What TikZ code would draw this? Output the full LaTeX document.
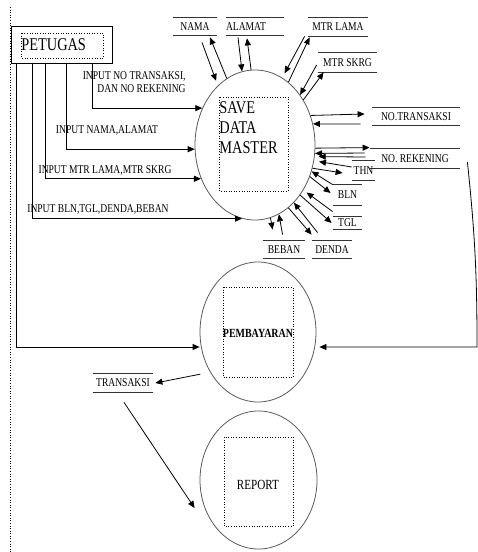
\documentclass[tikz,border=0pt]{standalone}
\usepackage{fontspec}
\setmainfont{Liberation Serif}[FakeStretch=0.8]
\usetikzlibrary{arrows.meta,shapes.geometric}

\begin{document}
\begin{tikzpicture}[x=1bp,y=-1bp,line width=0.8bp,
        flow/.style={-{Triangle[length=7bp,width=6bp]}},
        proc/.style={ellipse,draw=black!65},
        inbox/.style={dotted,line width=0.6bp},
        lbl/.style={inner sep=0pt,font=\fontsize{12}{13}\selectfont},
        store/.style={lbl,minimum height=17bp,
            append after command={(\tikzlastnode.north west) edge[draw=black!80] (\tikzlastnode.north east)
                (\tikzlastnode.south west) edge[draw=black!80] (\tikzlastnode.south east)}}]
        \useasboundingbox (0,0) rectangle (478,552);
        \draw[inbox] (10,7) -- (10,552);

        % entitas
        \node[draw,line width=1bp,minimum width=100bp,minimum height=37bp] (petugas) at (62,45) {};
        \draw[inbox] (21,33) rectangle (103,58);
        \node[anchor=west,inner sep=0pt,font=\fontsize{18}{20}\selectfont] (petugastxt) at (21,44.5) {PETUGAS};

        % proses
        \node[proc,minimum width=120bp,minimum height=150bp] (save) at (255,145) {};
        \draw[inbox] (219,97) rectangle (288,191);
        \node[anchor=north west,align=left,inner sep=0pt,font=\fontsize{18}{20}\selectfont] (savetxt) at (219,101) {SAVE\\DATA\\MASTER};

        \node[proc,minimum width=116bp,minimum height=140bp] (bayar) at (258,332) {};
        \draw[inbox] (223,287) rectangle (293,377);
        \node[inner sep=0pt,font=\bfseries\fontsize{12.5}{14}\selectfont] (bayartxt) at (258,333) {PEMBAYARAN};

        \node[proc,minimum width=117bp,minimum height=138bp] (report) at (258.5,480) {};
        \draw[inbox] (224,437) rectangle (293,526);
        \node[inner sep=0pt,font=\fontsize{14}{16}\selectfont] (reporttxt) at (258,485) {REPORT};

        % data store
        \node[store,minimum width=44bp] (nama) at (195,26.5) {NAMA};
        \node[store,text width=58bp,align=left] (alamat) at (255,26.5) {ALAMAT};
        \node[store,minimum width=60bp,minimum height=18bp] (lama) at (338,27) {MTR LAMA};
        \node[store,minimum width=59bp,minimum height=19bp] (skrg) at (347.5,62.5) {MTR SKRG};
        \node[store,minimum width=88bp] (notrans) at (416,116.5) {NO.TRANSAKSI};
        \node[store,minimum width=90bp,minimum height=19bp] (norek) at (415,158.5) {NO. REKENING};
        \node[store,minimum width=23bp,minimum height=19bp] (thn) at (363.5,170.5) {THN};
        \node[store,minimum width=29bp,minimum height=20bp] (bln) at (347.5,195) {BLN};
        \node[store,minimum width=29bp,minimum height=12bp] (tgl) at (347.5,223) {TGL};
        \node[store,minimum width=40bp] (denda) at (332,249.5) {DENDA};
        \node[store,minimum width=42bp] (beban) at (284,249.5) {BEBAN};
        \node[store,minimum width=60bp,minimum height=18bp] (transaksi) at (123,383) {TRANSAKSI};

        % input dari petugas
        \draw[flow] ([xshift=81bp]petugas.south west) |- (save.145);
        \draw[flow] ([xshift=55bp]petugas.south west) |- (save.184);
        \draw[flow] ([xshift=34bp]petugas.south west) |- (save.212);
        \draw[flow] ([xshift=21bp]petugas.south west) |- (save.260);
        \draw[flow] ([xshift=5bp]petugas.south west) |- ([yshift=-15bp]bayar.west);
        \node[lbl,align=right,anchor=east] (in1) at (186,82.5) {INPUT NO TRANSAKSI,\\DAN NO REKENING};
        \node[lbl] (in2) at (107,130) {INPUT NAMA,ALAMAT};
        \node[lbl] (in3) at (105,170) {INPUT MTR LAMA,MTR SKRG};
        \node[lbl] (in4) at (98,209) {INPUT BLN,TGL,DENDA,BEBAN};

        % save data master <-> data store
        \draw[flow,shorten >=5bp] ([xshift=7bp,yshift=-7bp]nama.south) -- (save.122);
        \draw[flow] (save.113) -- ([xshift=15bp,yshift=-2bp]nama.south);
        \draw[flow] ([xshift=-17bp,yshift=-2bp]alamat.south) -- (save.100);
        \draw[flow] (save.93) -- ([xshift=-8bp,yshift=-3bp]alamat.south);
        \draw[flow,shorten >=5bp] ([xshift=-3bp]lama.south west) -- (save.68);
        \draw[flow] (save.62) -- ([xshift=2bp,yshift=-1bp]lama.south west);
        \draw[flow] ([xshift=-1bp,yshift=-2.5bp]skrg.west) -- (save.48);
        \draw[flow] (save.43) -- ([xshift=6bp]skrg.south west);
        \draw[flow] (save.28) -- ([xshift=-7bp,yshift=2.5bp]notrans.west);
        \draw[flow] ([xshift=-11bp,yshift=-7.5bp]notrans.west) -- (save.20);
        \draw[flow] (save.-3) -- ([yshift=1bp]norek.north west);
        \draw[flow] ([xshift=-5bp,yshift=5.5bp]norek.west) -- (save.-8);
        \draw[flow,shorten >=4bp] ([xshift=-4bp,yshift=1.5bp]norek.west) -- (save.-11);
        \draw[flow,shorten >=5bp] ([yshift=3.5bp]thn.west) -- (save.-15);
        \draw[flow] (save.-22) -- ([xshift=-9bp,yshift=-2.5bp]thn.west);
        \draw[flow] (bln.north west) -- (save.-25);
        \draw[flow] (save.-30) -- ([xshift=-2bp,yshift=2bp]bln.west);
        \draw[flow,shorten >=4bp] ([yshift=5bp]tgl.north west) -- (save.-43);
        \draw[flow] (save.-48) -- ([xshift=-1bp]tgl.west);
        \draw[flow] ([xshift=6bp,yshift=8bp]denda.north west) -- (save.-56);
        \draw[flow] (save.-62) -- ([yshift=6bp]denda.north west);
        \draw[flow] (save.-78) -- ([xshift=10bp,yshift=11bp]beban.north west);
        \draw[flow] ([xshift=20bp,yshift=6bp]beban.north west) -- (save.-71);

        % pembayaran
        \coordinate (rbend) at (477,347);
        \draw[flow] ([xshift=7bp,yshift=-3.5bp]norek.east) to[bend left=3] (rbend) -- ([xshift=3bp,yshift=-15bp]bayar.east);
        \draw[flow,shorten <=10bp] (bayar.220) -- ([xshift=2bp]transaksi.east);
        \draw[flow] ([xshift=1bp,yshift=-10bp]transaksi.south) -- ([xshift=-5bp,yshift=-28bp]report.west);
\end{tikzpicture}
\end{document}
